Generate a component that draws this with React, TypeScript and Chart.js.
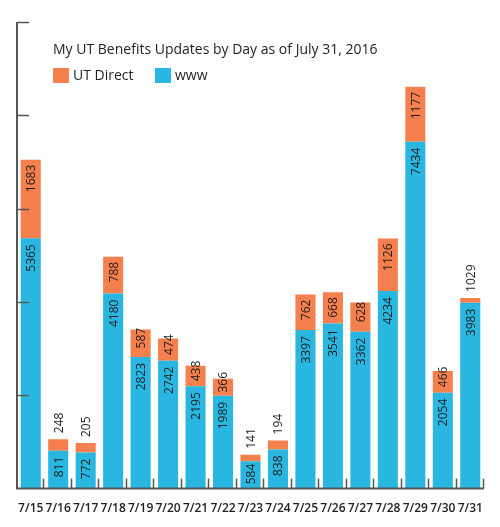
import React, { useEffect, useRef } from "react";
import { Chart, registerables } from "chart.js";

Chart.register(...registerables);

const days = ["7/15","7/16","7/17","7/18","7/19","7/20","7/21","7/22","7/23","7/24","7/25","7/26","7/27","7/28","7/29","7/30","7/31"];
const wwwValues = [5365, 811, 772, 4180, 2823, 2742, 2195, 1989, 584, 838, 3397, 3541, 3362, 4234, 7434, 2054, 3983];
const utDirectValues = [1683, 248, 205, 788, 587, 474, 438, 366, 141, 194, 762, 668, 628, 1126, 1177, 466, 103];
const utDirectLabels = ["1683","248","205","788","587","474","438","366","141","194","762","668","628","1126","1177","466","1029"];
const yTicks = [0, 2000, 4000, 6000, 8000, 10000];
const titleText = "My UT Benefits Updates by Day as of July 31, 2016";
const seriesNames = ["UT Direct", "www"];

const ORANGE = "#F57F4D";
const BLUE = "#29B6E1";
const AXIS = "#555555";
const FONT = "'Open Sans', 'Liberation Sans', sans-serif";

const overlayPlugin = {
  id: "overlay",
  afterDatasetsDraw(chart: any) {
    const ctx = chart.ctx;
    const area = chart.chartArea;
    const ys = chart.scales.y;
    ctx.save();
    // axes
    ctx.strokeStyle = AXIS;
    ctx.lineWidth = 2;
    ctx.beginPath();
    ctx.moveTo(area.left, area.top);
    ctx.lineTo(area.left, area.bottom);
    ctx.lineTo(area.right, area.bottom);
    ctx.stroke();
    // y ticks (inward)
    ctx.lineWidth = 1.5;
    yTicks.forEach((v) => {
      if (v === 0) return;
      const y = Math.round(ys.getPixelForValue(v)) + 0.5;
      ctx.beginPath();
      ctx.moveTo(area.left, y);
      ctx.lineTo(area.left + 12, y);
      ctx.stroke();
    });
    // x ticks at category boundaries
    const n = days.length;
    const w = (area.right - area.left) / n;
    for (let i = 1; i <= n; i++) {
      const x = Math.round(area.left + i * w) - 0.5;
      ctx.beginPath();
      ctx.moveTo(x, area.bottom);
      ctx.lineTo(x, area.bottom - 10);
      ctx.stroke();
    }
    // value labels
    ctx.fillStyle = "#1e1e1e";
    ctx.font = `12px ${FONT}`;
    ctx.textBaseline = "middle";
    const metaW = chart.getDatasetMeta(0);
    const metaU = chart.getDatasetMeta(1);
    const drawRot = (x: number, y: number, text: string, align: CanvasTextAlign) => {
      ctx.save();
      ctx.translate(x, y);
      ctx.rotate(-Math.PI / 2);
      ctx.textAlign = align;
      ctx.fillText(text, 0, 1);
      ctx.restore();
    };
    metaW.data.forEach((bar: any, i: number) => {
      const text = String(wwwValues[i]);
      const tw = ctx.measureText(text).width;
      const h = bar.base - bar.y;
      if (tw + 12 > h) {
        drawRot(bar.x, (bar.y + bar.base) / 2 - 1, text, "center");
      } else {
        drawRot(bar.x, bar.y + 6, text, "right");
      }
    });
    metaU.data.forEach((bar: any, i: number) => {
      const top = bar.y;
      const bottom = bar.base;
      const h = bottom - top;
      const text = utDirectLabels[i];
      const tw = ctx.measureText(text).width;
      if (h < 14) {
        drawRot(bar.x, top - 6, text, "left");
      } else if (tw + 10 > h) {
        drawRot(bar.x, (top + bottom) / 2 - 5, text, "center");
      } else {
        drawRot(bar.x, top + 5, text, "right");
      }
    });
    // title
    ctx.fillStyle = "#1e1e1e";
    ctx.font = `14px ${FONT}`;
    ctx.textAlign = "left";
    ctx.textBaseline = "middle";
    ctx.fillText(titleText, 53, 50);
    // legend
    ctx.fillStyle = ORANGE;
    ctx.fillRect(53, 68, 16, 15);
    ctx.fillStyle = "#1e1e1e";
    ctx.fillText(seriesNames[0], 73, 76);
    ctx.fillStyle = BLUE;
    ctx.fillRect(155, 68, 16, 15);
    ctx.fillStyle = "#1e1e1e";
    ctx.fillText(seriesNames[1], 175, 76);
    ctx.restore();
  },
};

export default function App() {
  const ref = useRef<HTMLCanvasElement | null>(null);
  useEffect(() => {
    if (!ref.current) return;
    const chart = new Chart(ref.current, {
      type: "bar",
      data: {
        labels: days,
        datasets: [
          { label: seriesNames[1], data: wwwValues, backgroundColor: BLUE, borderWidth: 0, stack: "s" } as any,
          { label: seriesNames[0], data: utDirectValues, backgroundColor: ORANGE, borderWidth: 0, stack: "s" } as any,
        ],
      },
      options: {
        responsive: false,
        animation: false,
        events: [],
        layout: { padding: { left: 17, right: 16, top: 22, bottom: -2 } },
        datasets: { bar: { barPercentage: 0.73, categoryPercentage: 1 } },
        plugins: { legend: { display: false }, title: { display: false }, tooltip: { enabled: false } },
        scales: {
          x: {
            stacked: true,
            grid: { display: false, drawTicks: false },
            border: { display: false },
            ticks: { color: "#1e1e1e", font: { family: FONT, size: 12, weight: "600" as any }, padding: 13, autoSkip: false, maxRotation: 0 },
          },
          y: {
            stacked: true,
            display: false,
            min: 0,
            max: 10000,
          },
        },
      },
      plugins: [overlayPlugin],
    } as any);
    return () => chart.destroy();
  }, []);
  return (
    <div style={{ position: "fixed", left: 0, top: 0, width: 500, height: 527, background: "#fff" }}>
      <canvas ref={ref} width={500} height={527} style={{ display: "block" }} />
    </div>
  );
}
